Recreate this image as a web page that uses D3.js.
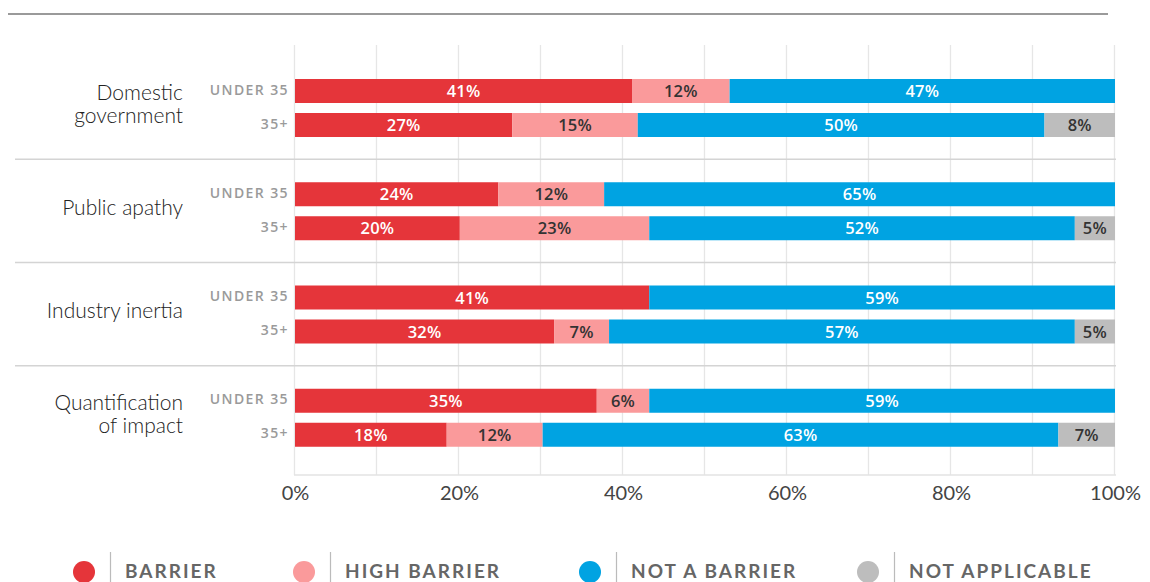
<!DOCTYPE html>
<html><head><meta charset="utf-8">
<script src="https://cdn.jsdelivr.net/npm/d3@7"></script>
<style>
body{margin:0;background:#fff;}
svg{display:block;font-family:Lato,"Open Sans",sans-serif;}
</style></head>
<body><svg id="c" width="1150" height="582"></svg>
<script>
const categories = ["Domestic government","Public apathy","Industry inertia","Quantification of impact"];
const categoryLines = [["Domestic","government"],["Public apathy"],["Industry inertia"],["Quantification","of impact"]];
const ageGroups = ["UNDER 35","35+"];
const seriesNames = ["BARRIER","HIGH BARRIER","NOT A BARRIER","NOT APPLICABLE"];
const seriesColors = ["#e5353a","#fa9a9b","#00a3e2","#bdbdbd"];
const labelColors = ["#fff","#333","#fff","#333"];
// bar lengths (% of respondents) as drawn, per row: [category][age]
const barrier      = [[41.1,26.5],[24.8,20.1],[43.2,31.6],[36.8,18.5]];
const highBarrier  = [[11.9,15.3],[12.9,23.1],[0,6.7],[6.4,11.7]];
const notBarrier   = [[47.0,49.6],[62.3,51.9],[56.8,56.8],[56.8,62.9]];
const notApplic    = [[0,8.6],[0,4.9],[0,4.9],[0,6.9]];
// printed labels
const barrierLbl     = [[41,27],[24,20],[41,32],[35,18]];
const highBarrierLbl = [[12,15],[12,23],[null,7],[6,12]];
const notBarrierLbl  = [[47,50],[65,52],[59,57],[59,63]];
const notApplicLbl   = [[null,8],[null,5],[null,5],[null,7]];
const xTicks = [0,20,40,60,80,100];

const svg = d3.select("#c");
const x = d3.scaleLinear().domain([0,100]).range([295,1115]);
const yGroup = d3.scaleBand().domain(categories).range([57,470]).padding(0);
const yRow = d3.scaleBand().domain(ageGroups).range([22,80]).paddingInner(10/34).paddingOuter(0);

// top rule
svg.append("line").attr("x1",8).attr("x2",1108).attr("y1",14).attr("y2",14)
  .attr("stroke","#9a9a9a").attr("stroke-width",2);

// vertical gridlines
const gridVals = d3.range(0,101,10);
svg.append("g").selectAll("line").data(gridVals).join("line")
  .attr("x1",d=>x(d)-0.5).attr("x2",d=>x(d)-0.5).attr("y1",45).attr("y2",475)
  .attr("stroke","#e6e6e6").attr("stroke-width",1.3);

// group separators and bottom line
svg.append("g").selectAll("line").data(categories.slice(1).concat(["__end"])).join("line")
  .attr("x1",(d,i)=> i<3 ? 15 : 294).attr("x2",1116)
  .attr("y1",(d,i)=> i<3 ? yGroup(d)-1 : 475).attr("y2",(d,i)=> i<3 ? yGroup(d)-1 : 475)
  .attr("stroke",(d,i)=> i<3 ? "#d4d4d4" : "#e3e3e3").attr("stroke-width",1.5);

// axis
const axis = d3.axisBottom(x).tickValues(xTicks).tickFormat(d=>d+"%").tickSize(0).tickPadding(0);
const ax = svg.append("g").attr("transform","translate(0,486)").call(axis);
ax.select(".domain").remove();
ax.selectAll("text").attr("font-size",20).attr("fill","#444").attr("font-family","Lato,sans-serif").attr("dy","0.71em");

const rows = [];
categories.forEach((c,ci)=>{
  ageGroups.forEach((a,ai)=>{
    const vals = [barrier[ci][ai],highBarrier[ci][ai],notBarrier[ci][ai],notApplic[ci][ai]];
    const lbls = [barrierLbl[ci][ai],highBarrierLbl[ci][ai],notBarrierLbl[ci][ai],notApplicLbl[ci][ai]];
    let acc = 0;
    vals.forEach((v,si)=>{
      rows.push({c,a,si,x0:acc,x1:acc+v,v,lbl:lbls[si]});
      acc += v;
    });
  });
});

const g = svg.append("g");
g.selectAll("rect").data(rows.filter(d=>d.v>0)).join("rect")
  .attr("x",d=>x(d.x0)).attr("width",d=>x(d.x1)-x(d.x0))
  .attr("y",d=>yGroup(d.c)+yRow(d.a)).attr("height",yRow.bandwidth())
  .attr("fill",d=>seriesColors[d.si]);
g.selectAll("text").data(rows.filter(d=>d.v>0 && d.lbl!=null)).join("text")
  .attr("x",d=>(x(d.x0)+x(d.x1))/2).attr("y",d=>yGroup(d.c)+yRow(d.a)+yRow.bandwidth()/2)
  .attr("dy","0.37em").attr("text-anchor","middle")
  .attr("font-family","'Open Sans',sans-serif")
  .attr("font-size",16.5).attr("font-weight",600).attr("letter-spacing",0.2)
  .attr("fill",d=>labelColors[d.si]).text(d=>d.lbl+"%");

// age labels
categories.forEach(c=>{
  svg.append("g").selectAll("text").data(ageGroups).join("text")
    .attr("x",289).attr("y",a=>yGroup(c)+yRow(a)+yRow.bandwidth()/2 - 1.5)
    .attr("dy","0.36em").attr("text-anchor","end")
    .attr("font-family","'Open Sans',sans-serif")
    .attr("font-size",14).attr("font-weight",600).attr("letter-spacing",1.4)
    .attr("fill","#9a9a9a").text(a=>a);
});

// category labels (one text per line)
categories.forEach((c,ci)=>{
  const lines = categoryLines[ci];
  const cy = yGroup(c) + 47;
  svg.append("g").selectAll("text").data(lines).join("text")
    .attr("text-anchor","end").attr("font-size",21)
    .attr("font-weight",300).attr("fill","#222")
    .attr("x",183).attr("y",(ln,li)=>cy + (li-(lines.length-1)/2)*23).attr("dy","0.36em").text(ln=>ln);
});

// legend
const legX = [84,304,590,868];
const lg = svg.append("g").selectAll("g").data(seriesNames).join("g")
  .attr("transform",(d,i)=>`translate(${legX[i]},572)`);
lg.append("circle").attr("r",11).attr("fill",(d,i)=>seriesColors[i]);
lg.append("line").attr("x1",26.5).attr("x2",26.5).attr("y1",-20).attr("y2",12)
  .attr("stroke","#bbb").attr("stroke-width",1.2);
lg.append("text").attr("x",41).attr("y",6).attr("font-size",19).attr("font-weight",700)
  .attr("letter-spacing",2).attr("fill","#666").text(d=>d);
</script></body></html>
